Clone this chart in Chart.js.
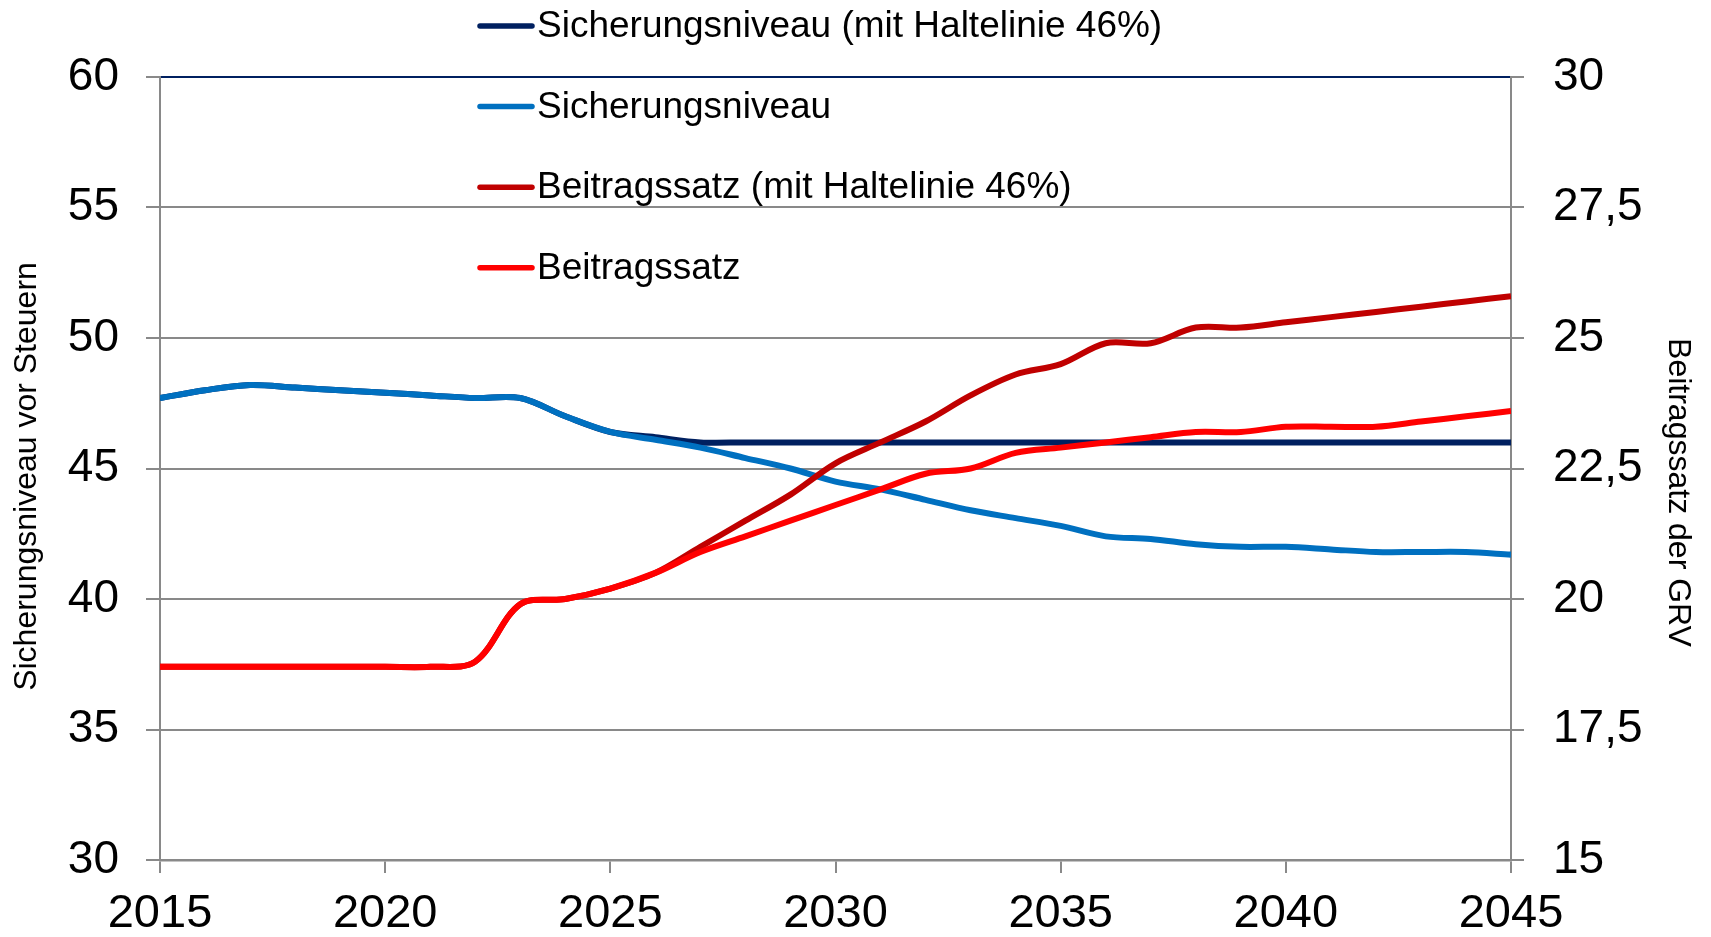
<!DOCTYPE html>
<html>
<head>
<meta charset="utf-8">
<script src="https://cdn.jsdelivr.net/npm/chart.js@4"></script>
<style>
  html, body { margin: 0; padding: 0; background: #ffffff; }
  #wrap { width: 1711px; height: 937px; position: relative; }
</style>
</head>
<body>
<div id="wrap"><canvas id="c" width="1711" height="937"></canvas></div>
<script>
// ---- Data ----
const years = [2015,2016,2017,2018,2019,2020,2021,2022,2023,2024,2025,2026,2027,2028,2029,2030,
               2031,2032,2033,2034,2035,2036,2037,2038,2039,2040,2041,2042,2043,2044,2045];

const seriesLabels = [
  "Sicherungsniveau (mit Haltelinie 46%)",
  "Sicherungsniveau",
  "Beitragssatz (mit Haltelinie 46%)",
  "Beitragssatz"
];

const niveauHaltelinie = [47.7,48.0,48.2,48.1,48.0,47.9,47.8,47.7,47.7,47.0,46.4,46.2,46.0,46.0,46.0,46.0,
                          46.0,46.0,46.0,46.0,46.0,46.0,46.0,46.0,46.0,46.0,46.0,46.0,46.0,46.0,46.0];

const niveau = [47.7,48.0,48.2,48.1,48.0,47.9,47.8,47.7,47.7,47.0,46.4,46.1,45.8,45.4,45.0,44.5,
                44.2,43.8,43.4,43.1,42.8,42.4,42.3,42.1,42.0,42.0,41.9,41.8,41.8,41.8,41.7];

const beitragHaltelinie = [18.7,18.7,18.7,18.7,18.7,18.7,18.7,18.8,19.9,20.0,20.2,20.5,21.0,21.5,22.0,22.6,
                           23.0,23.4,23.9,24.3,24.5,24.9,24.9,25.2,25.2,25.3,25.4,25.5,25.6,25.7,25.8];

const beitrag = [18.7,18.7,18.7,18.7,18.7,18.7,18.7,18.8,19.9,20.0,20.2,20.5,20.9,21.2,21.5,21.8,
                 22.1,22.4,22.5,22.8,22.9,23.0,23.1,23.2,23.2,23.3,23.3,23.3,23.4,23.5,23.6];

const xTicks = [2015, 2020, 2025, 2030, 2035, 2040, 2045];
const leftTicks = [30, 35, 40, 45, 50, 55, 60];
const rightTicks = [15, 17.5, 20, 22.5, 25, 27.5, 30];

const leftTitle = "Sicherungsniveau vor Steuern";
const rightTitle = "Beitragssatz der GRV";

// ---- Styles ----
const colors = ["#002060", "#0070C0", "#C00000", "#FF0000"];
const FONT = '"Liberation Sans", Arial, Helvetica, sans-serif';
const GRID = "#898989";

Chart.defaults.font.family = FONT;
Chart.defaults.color = "#000000";

const toPts = arr => arr.map((v, i) => ({ x: years[i], y: v }));

const legendAndTitles = {
  id: "legendAndTitles",
  afterDraw(chart) {
    const ctx = chart.ctx;
    const ca = chart.chartArea;
    ctx.save();
    // legend
    const rowY0 = 26, rowStep = 80.6, lineX0 = 480, lineX1 = 532, textX = 537;
    chart.data.datasets.forEach((ds, i) => {
      const y = rowY0 + i * rowStep;
      ctx.strokeStyle = ds.borderColor;
      ctx.lineWidth = 5.5;
      ctx.lineCap = "round";
      ctx.beginPath();
      ctx.moveTo(lineX0, y);
      ctx.lineTo(lineX1, y);
      ctx.stroke();
      ctx.fillStyle = "#000";
      ctx.font = "37px " + FONT;
      ctx.textAlign = "left";
      ctx.textBaseline = "middle";
      ctx.fillText(ds.label, textX, y + 1);
    });
    // axis titles
    ctx.font = "32px " + FONT;
    ctx.fillStyle = "#000";
    ctx.textAlign = "center";
    ctx.textBaseline = "middle";
    ctx.save();
    ctx.translate(27, (ca.top + ca.bottom) / 2 + 8);
    ctx.rotate(-Math.PI / 2);
    ctx.fillText(leftTitle, 0, 0);
    ctx.restore();
    ctx.save();
    ctx.translate(1678, (ca.top + ca.bottom) / 2 + 24);
    ctx.rotate(Math.PI / 2);
    ctx.fillText(rightTitle, 0, 0);
    ctx.restore();
    ctx.restore();
  }
};

new Chart(document.getElementById("c"), {
  type: "line",
  data: {
    datasets: [
      { label: seriesLabels[0], data: toPts(niveauHaltelinie), yAxisID: "y", borderColor: colors[0], backgroundColor: colors[0], borderWidth: 6, order: 3 },
      { label: seriesLabels[1], data: toPts(niveau), yAxisID: "y", borderColor: colors[1], backgroundColor: colors[1], borderWidth: 6, order: 2 },
      { label: seriesLabels[2], data: toPts(beitragHaltelinie), yAxisID: "y1", borderColor: colors[2], backgroundColor: colors[2], borderWidth: 6, order: 1 },
      { label: seriesLabels[3], data: toPts(beitrag), yAxisID: "y1", borderColor: colors[3], backgroundColor: colors[3], borderWidth: 6, order: 0 }
    ]
  },
  options: {
    responsive: false,
    animation: false,
    devicePixelRatio: 1,
    layout: { padding: { top: 77, left: 0, right: 0, bottom: 0 } },
    elements: {
      point: { radius: 0, hoverRadius: 0 },
      line: { tension: 0.33, capBezierPoints: true, borderCapStyle: "butt", borderJoinStyle: "round" }
    },
    plugins: { legend: { display: false }, tooltip: { enabled: false }, title: { display: false } },
    scales: {
      x: {
        type: "linear",
        min: xTicks[0],
        max: xTicks[xTicks.length - 1],
        afterBuildTicks: s => { s.ticks = xTicks.map(v => ({ value: v })); },
        afterFit: s => { s.height = 77; },
        ticks: { font: { size: 47 }, color: "#000", padding: 13, maxRotation: 0, autoSkip: false, callback: v => String(v) },
        grid: { display: true, drawOnChartArea: false, drawTicks: true, tickLength: 13, color: GRID, lineWidth: 2 },
        border: { display: true, color: GRID, width: 2.5 }
      },
      y: {
        position: "left",
        min: leftTicks[0],
        max: leftTicks[leftTicks.length - 1],
        afterBuildTicks: s => { s.ticks = leftTicks.map(v => ({ value: v })); },
        afterFit: s => { s.width = 160; },
        ticks: { font: { size: 46 }, color: "#000", padding: 27, callback: v => String(v) },
        grid: {
          display: true, drawOnChartArea: true, drawTicks: true, tickLength: 14,
          color: c => (c.tick && c.tick.value === 60) ? "#002060" : GRID,
          lineWidth: 2,
          tickColor: GRID
        },
        border: { display: true, color: GRID, width: 2 }
      },
      y1: {
        position: "right",
        min: rightTicks[0],
        max: rightTicks[rightTicks.length - 1],
        afterBuildTicks: s => { s.ticks = rightTicks.map(v => ({ value: v })); },
        afterFit: s => { s.width = 200; },
        ticks: { font: { size: 46 }, color: "#000", padding: 29, callback: v => String(v).replace(".", ",") },
        grid: { display: true, drawOnChartArea: false, drawTicks: true, tickLength: 13, color: GRID, lineWidth: 2 },
        border: { display: true, color: GRID, width: 2 }
      }
    }
  },
  plugins: [legendAndTitles]
});
</script>
</body>
</html>
